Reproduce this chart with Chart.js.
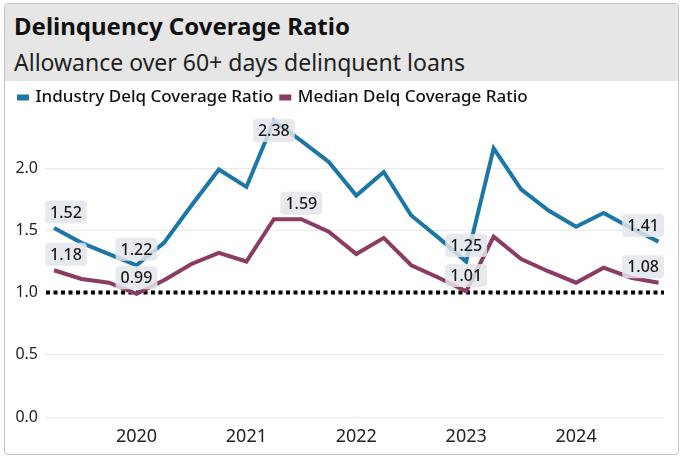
<!DOCTYPE html>
<html>
<head>
<meta charset="utf-8">
<script src="https://cdn.jsdelivr.net/npm/chart.js@4/dist/chart.umd.min.js"></script>
<style>
  body { margin: 0; background: #fff; font-family: "Noto Sans", sans-serif; }
  #card {
    position: absolute; left: 4px; top: 3px; width: 673px; height: 450px;
    border: 1px solid #c4c4c4; border-radius: 4px; overflow: hidden; background: #fff;
  }
  #head { position: absolute; left: 0; top: 0; width: 100%; height: 77px; background: #e6e6e6; }
  #title { position: absolute; left: 9px; top: 5px; font-size: 24px; font-weight: 700; color: #111; line-height: 34px; }
  #subtitle { position: absolute; left: 9px; top: 42px; font-size: 23px; color: #222; line-height: 32px; }
  #wrap { position: absolute; left: 0; top: 77px; width: 673px; height: 373px; }
</style>
</head>
<body>
<div id="card">
  <div id="head">
    <div id="title">Delinquency Coverage Ratio</div>
    <div id="subtitle">Allowance over 60+ days delinquent loans</div>
  </div>
  <div id="wrap"><canvas id="ratioChart"></canvas></div>
</div>
<script>
// quarterly points, 2019 Q2 .. 2024 Q4
const quarters = [
  "2019 Q2", "2019 Q3", "2019 Q4",
  "2020 Q1", "2020 Q2", "2020 Q3", "2020 Q4",
  "2021 Q1", "2021 Q2", "2021 Q3", "2021 Q4",
  "2022 Q1", "2022 Q2", "2022 Q3", "2022 Q4",
  "2023 Q1", "2023 Q2", "2023 Q3", "2023 Q4",
  "2024 Q1", "2024 Q2", "2024 Q3", "2024 Q4"
];
const industry = [1.52, 1.40, 1.31, 1.22, 1.40, 1.70, 1.99, 1.85, 2.38, 2.22, 2.05, 1.78,
                  1.97, 1.62, 1.44, 1.25, 2.16, 1.83, 1.66, 1.53, 1.64, 1.52, 1.41];
const median = [1.18, 1.11, 1.08, 0.99, 1.10, 1.23, 1.32, 1.25, 1.59, 1.59, 1.49, 1.31,
                1.44, 1.22, 1.12, 1.01, 1.45, 1.27, 1.17, 1.08, 1.20, 1.12, 1.08];
// which points get a value tag
const industryLabelAt = [0, 3, 8, 15, 22];
const medianLabelAt = [0, 3, 9, 15, 22];
const yTicks = [0, 0.5, 1.0, 1.5, 2.0];
const threshold = 1.0;

const yearTicks = quarters
  .map((q, i) => q.endsWith("Q1") ? i : -1)
  .filter(i => i >= 0);

const toPoints = arr => arr.map((v, i) => ({ x: i, y: v }));

// dotted reference line at 1.0
const thresholdLine = {
  id: "thresholdLine",
  beforeDatasetsDraw(chart) {
    const { ctx, chartArea, scales } = chart;
    const y = scales.y.getPixelForValue(threshold);
    ctx.save();
    ctx.strokeStyle = "#000";
    ctx.lineWidth = 4;
    ctx.setLineDash([4, 3.5]);
    ctx.beginPath();
    ctx.moveTo(chartArea.left + 1, y);
    ctx.lineTo(chartArea.right, y);
    ctx.stroke();
    ctx.restore();
  }
};

// small grey value tags above selected points
const valueTags = {
  id: "valueTags",
  afterDatasetsDraw(chart) {
    const { ctx, chartArea } = chart;
    ctx.save();
    ctx.font = "500 16px 'Noto Sans'";
    ctx.textAlign = "center";
    ctx.textBaseline = "middle";
    chart.data.datasets.forEach((ds, di) => {
      const meta = chart.getDatasetMeta(di);
      ds.tagAt.forEach(i => {
        const pt = meta.data[i];
        const txt = ds.data[i].y.toFixed(2);
        const w = ctx.measureText(txt).width + 10;
        const h = 23;
        let cx = Math.min(Math.max(pt.x, chartArea.left + w / 2), chartArea.right - w / 2);
        let top = Math.max(pt.y - 16 - h / 2, chartArea.top + 3);
        ctx.fillStyle = "rgba(226,229,234,0.85)";
        ctx.beginPath();
        ctx.roundRect(cx - w / 2, top, w, h, 4);
        ctx.fill();
        ctx.fillStyle = "#1a1a1a";
        ctx.fillText(txt, cx, top + h / 2 + 1);
      });
    });
    ctx.restore();
  }
};

new Chart(document.getElementById("ratioChart"), {
  type: "line",
  data: {
    datasets: [
      {
        label: "Industry Delq Coverage Ratio",
        data: toPoints(industry),
        tagAt: industryLabelAt,
        borderColor: "#1b77a6",
        backgroundColor: "#1b77a6",
        borderWidth: 4,
        pointRadius: 0,
        tension: 0
      },
      {
        label: "Median Delq Coverage Ratio",
        data: toPoints(median),
        tagAt: medianLabelAt,
        borderColor: "#8b3c63",
        backgroundColor: "#8b3c63",
        borderWidth: 4,
        pointRadius: 0,
        tension: 0
      }
    ]
  },
  options: {
    responsive: true,
    maintainAspectRatio: false,
    animation: false,
    layout: { padding: { left: 6, right: 14, top: 0, bottom: 0 } },
    plugins: {
      tooltip: { enabled: false },
      legend: {
        position: "top",
        align: "start",
        labels: {
          boxWidth: 8,
          boxHeight: 2,
          padding: 8,
          color: "#111",
          font: { family: "Noto Sans", size: 17, weight: "500" }
        }
      }
    },
    scales: {
      x: {
        type: "linear",
        min: -0.33,
        max: 22.2,
        grid: { display: false },
        border: { display: false },
        afterBuildTicks: s => { s.ticks = yearTicks.map(v => ({ value: v })); },
        afterFit: s => { s.height = 37; },
        ticks: {
          autoSkip: false,
          maxRotation: 0,
          padding: 1,
          color: "#222",
          font: { family: "Noto Sans", size: 18 },
          callback: v => quarters[v] ? quarters[v].slice(0, 4) : ""
        }
      },
      y: {
        min: 0,
        max: 2.42,
        grid: { color: "#e9e9e9", drawTicks: false },
        border: { display: false },
        afterBuildTicks: s => { s.ticks = yTicks.map(v => ({ value: v })); },
        afterFit: s => { s.width = 34; },
        ticks: {
          padding: 7,
          color: "#222",
          font: { family: "Noto Sans", size: 16 },
          callback: v => v.toFixed(1)
        }
      }
    }
  },
  plugins: [thresholdLine, valueTags]
});
</script>
</body>
</html>
